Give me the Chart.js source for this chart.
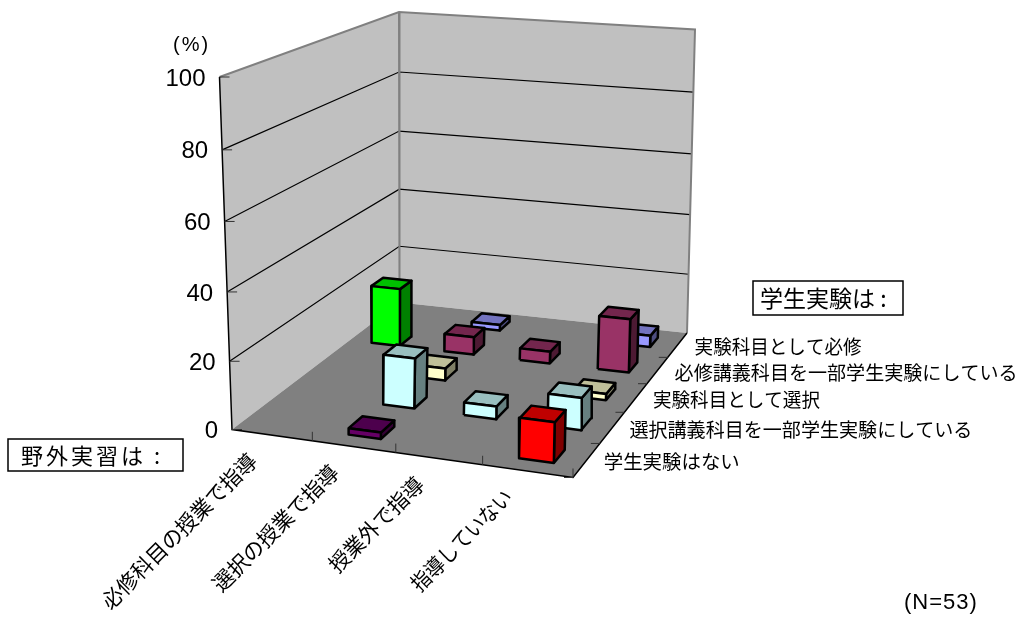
<!DOCTYPE html>
<html lang="ja">
<head>
<meta charset="utf-8">
<title>野外実習と学生実験</title>
<script src="https://cdn.jsdelivr.net/npm/chart.js@4/dist/chart.umd.js"></script>
<style>
  html, body { margin: 0; padding: 0; background: #fff; }
  canvas { display: block; }
</style>
</head>
<body>
<canvas id="field-lab-chart" width="1019" height="617"></canvas>
<script>
// categories along the front edge (fieldwork) and along the depth (lab work, front to back)
const categories = ['必修科目の授業で指導', '選択の授業で指導', '授業外で指導', '指導していない']
const seriesNames = ['学生実験はない', '選択講義科目を一部学生実験にしている', '実験科目として選択', '必修講義科目を一部学生実験にしている', '実験科目として必修']
const valueTicks = [0, 20, 40, 60, 80, 100]

// percentages per series, one value per category (N=53)
const noLab = [0, 1.89, 0, 11.32]
const electiveLecture = [0, 15.09, 3.77, 9.43]
const electiveLab = [0, 3.77, 0, 1.89]
const requiredLecture = [18.87, 5.66, 3.77, 16.98]
const requiredLab = [0, 1.89, 0, 3.77]
const seriesValues = [noLab, electiveLecture, electiveLab, requiredLecture, requiredLab]

// bar colours
const seriesColours = ['#660066', '#ccffff', '#ffffcc', '#993366', '#9999ff']
const pointColours = { '3,0': '#ff0000', '0,3': '#00ff00' }

// box corners on the page: floor and top of the walls
const floorBox = [[232, 429.5], [573, 477.5], [687, 333], [399.5, 302.5]]
const topBox = [[219.5, 77], [580, 97], [695, 29.5], [399, 12]]
const barShare = 0.39
const foreshorten = 0.96

// widths the labels are fitted to, kana run narrow in these labels
const seriesLabelWidths = [136, 343, 167, 343, 167]
const categoryLabelWidths = [209, 168, 124, 133]

// map the unit square onto a four sided shape
const quadMap = ([a, b, c, d]) => {
  const dx1 = b[0] - c[0]
  const dy1 = b[1] - c[1]
  const dx2 = d[0] - c[0]
  const dy2 = d[1] - c[1]
  const sx = a[0] - b[0] + c[0] - d[0]
  const sy = a[1] - b[1] + c[1] - d[1]
  const det = dx1 * dy2 - dy1 * dx2
  const i = (sx * dy2 - sy * dx2) / det
  const j = (dx1 * sy - dy1 * sx) / det
  return (u, v) => {
    const den = 1 + i * u + j * v
    return [
      ((b[0] * (1 + i) - a[0]) * u + (d[0] * (1 + j) - a[0]) * v + a[0]) / den,
      ((b[1] * (1 + i) - a[1]) * u + (d[1] * (1 + j) - a[1]) * v + a[1]) / den
    ]
  }
}
const floorMap = quadMap(floorBox)
const topMap = quadMap(topBox)

// u: along the categories, v: into the depth, value: percent
const project = (u, v, value) => {
  const w = value / 100
  const t = foreshorten * w / (1 + (foreshorten - 1) * w)
  const p = floorMap(u, v)
  const q = topMap(u, v)
  return { x: p[0] + (q[0] - p[0]) * t, y: p[1] + (q[1] - p[1]) * t }
}

// shade a hex colour for the top and side faces
const shade = (hex, k) => {
  const n = parseInt(hex.slice(1), 16)
  const part = (s) => Math.round(((n >> s) & 255) * k)
  return `rgb(${part(16)},${part(8)},${part(0)})`
}

const datasets = []

const addFace = (points, backgroundColor, borderColor, borderWidth) => {
  datasets.push({
    data: [...points, points[0]],
    showLine: true,
    fill: 'shape',
    backgroundColor,
    borderColor,
    borderWidth,
    borderJoinStyle: 'round',
    pointRadius: 0,
    tension: 0
  })
}

const addLine = (points, borderColor, borderWidth) => {
  datasets.push({ data: points, showLine: true, fill: false, borderColor, borderWidth, pointRadius: 0, tension: 0 })
}

// walls and floor
addFace([project(0, 0, 0), project(0, 1, 0), project(0, 1, 100), project(0, 0, 100)], '#c0c0c0', '#c0c0c0', 0)
addFace([project(0, 1, 0), project(1, 1, 0), project(1, 1, 100), project(0, 1, 100)], '#c0c0c0', '#c0c0c0', 0)
addFace([project(0, 0, 0), project(1, 0, 0), project(1, 1, 0), project(0, 1, 0)], '#808080', '#808080', 0)

// gridlines on both walls
valueTicks.slice(1, -1).forEach((tick) => {
  addLine([project(0, 0, tick), project(0, 1, tick), project(1, 1, tick)], '#000', 1.2)
})

// wall edges
addLine([project(0, 0, 100), project(0, 1, 100), project(1, 1, 100), project(1, 1, 0)], '#808080', 2)
addLine([project(0, 1, 100), project(0, 1, 0)], '#808080', 2)

// axis lines and tick marks
addLine([project(0, 0, 100), project(0, 0, 0), project(1, 0, 0), project(1, 1, 0)], '#000', 1.5)
valueTicks.forEach((tick) => {
  const p = project(0, 0, tick)
  addLine([p, { x: p.x + 10, y: p.y }], '#333', 1)
})
categories.forEach((name, i) => {
  const p = project((i + 1) / categories.length, 0, 0)
  addLine([p, { x: p.x, y: p.y - 9 }], '#333', 1)
})
seriesNames.forEach((name, j) => {
  const p = project(1, j / seriesNames.length, 0)
  addLine([p, { x: p.x - 9, y: p.y }], '#333', 1)
})

// bars, back row first so nearer ones cover them
const addBar = (i, j, value) => {
  const colour = pointColours[`${i},${j}`] || seriesColours[j]
  const pad = (1 - barShare) / 2
  const u0 = (i + pad) / categories.length
  const u1 = (i + 1 - pad) / categories.length
  const v0 = (j + pad) / seriesNames.length
  const v1 = (j + 1 - pad) / seriesNames.length
  addFace([project(u1, v0, 0), project(u1, v1, 0), project(u1, v1, value), project(u1, v0, value)], shade(colour, 0.5), '#000', 2.5)
  addFace([project(u0, v0, value), project(u1, v0, value), project(u1, v1, value), project(u0, v1, value)], shade(colour, 0.75), '#000', 2.5)
  addFace([project(u0, v0, 0), project(u1, v0, 0), project(u1, v0, value), project(u0, v0, value)], colour, '#000', 2.5)
}
for (let j = seriesNames.length - 1; j >= 0; j--) {
  for (let i = 0; i < categories.length; i++) {
    if (seriesValues[j][i] > 0) addBar(i, j, seriesValues[j][i])
  }
}

const jpFont = '"Noto Sans CJK JP", sans-serif'
const latinFont = '"Liberation Sans", Arial, sans-serif'

// tick labels, category labels, and the small notes and boxes
const labelsPlugin = {
  id: 'chartLabels',
  afterDraw: (chart) => {
    const ctx = chart.ctx
    const { x: xScale, y: yScale } = chart.scales
    const at = (p) => [xScale.getPixelForValue(p.x), yScale.getPixelForValue(p.y)]
    ctx.save()
    ctx.fillStyle = '#000'
    ctx.textBaseline = 'middle'

    ctx.font = `24px ${latinFont}`
    ctx.textAlign = 'right'
    valueTicks.forEach((tick) => {
      const [x, y] = at(project(0, 0, tick))
      ctx.fillText(String(tick), x - 14, y + 2)
    })

    ctx.font = `19.5px ${jpFont}`
    ctx.textAlign = 'left'
    seriesNames.forEach((name, j) => {
      const [x, y] = at(project(1, (j + 0.5) / seriesNames.length, 0))
      ctx.fillText(name, x + 17, y + 2, seriesLabelWidths[j])
    })

    ctx.font = `21.5px ${jpFont}`
    ctx.textAlign = 'right'
    categories.forEach((name, i) => {
      const [x, y] = at(project((i + 0.5) / categories.length, 0, 0))
      ctx.save()
      ctx.translate(x - 19, y + 22)
      ctx.rotate(-Math.PI / 4)
      ctx.fillText(name, 0, 0, categoryLabelWidths[i])
      ctx.restore()
    })

    ctx.font = `20px ${latinFont}`
    ctx.textAlign = 'left'
    ctx.letterSpacing = '2px'
    ctx.fillText('(%)', 173, 45)
    ctx.font = `22px ${latinFont}`
    ctx.letterSpacing = '1px'
    ctx.fillText('(N=53)', 904, 603)
    ctx.letterSpacing = '0px'

    ctx.strokeStyle = '#000'
    ctx.lineWidth = 1.5
    ctx.strokeRect(753, 281, 150, 34)
    ctx.strokeRect(8, 439, 175, 32)
    ctx.font = `23px ${jpFont}`
    ctx.fillText('学生実験は :', 760, 298)
    ctx.font = `22px ${jpFont}`
    ctx.letterSpacing = '3px'
    ctx.fillText('野外実習は :', 21, 456)
    ctx.restore()
  }
}

const chart = new Chart(document.getElementById('field-lab-chart'), {
  type: 'scatter',
  data: { datasets: datasets.reverse() },
  options: {
    responsive: false,
    animation: false,
    layout: { padding: 0 },
    scales: {
      x: { type: 'linear', min: 0, max: 1019, display: false },
      y: { type: 'linear', min: 0, max: 617, reverse: true, display: false }
    },
    plugins: { legend: { display: false }, tooltip: { enabled: false } }
  },
  plugins: [labelsPlugin]
})
</script>
</body>
</html>
